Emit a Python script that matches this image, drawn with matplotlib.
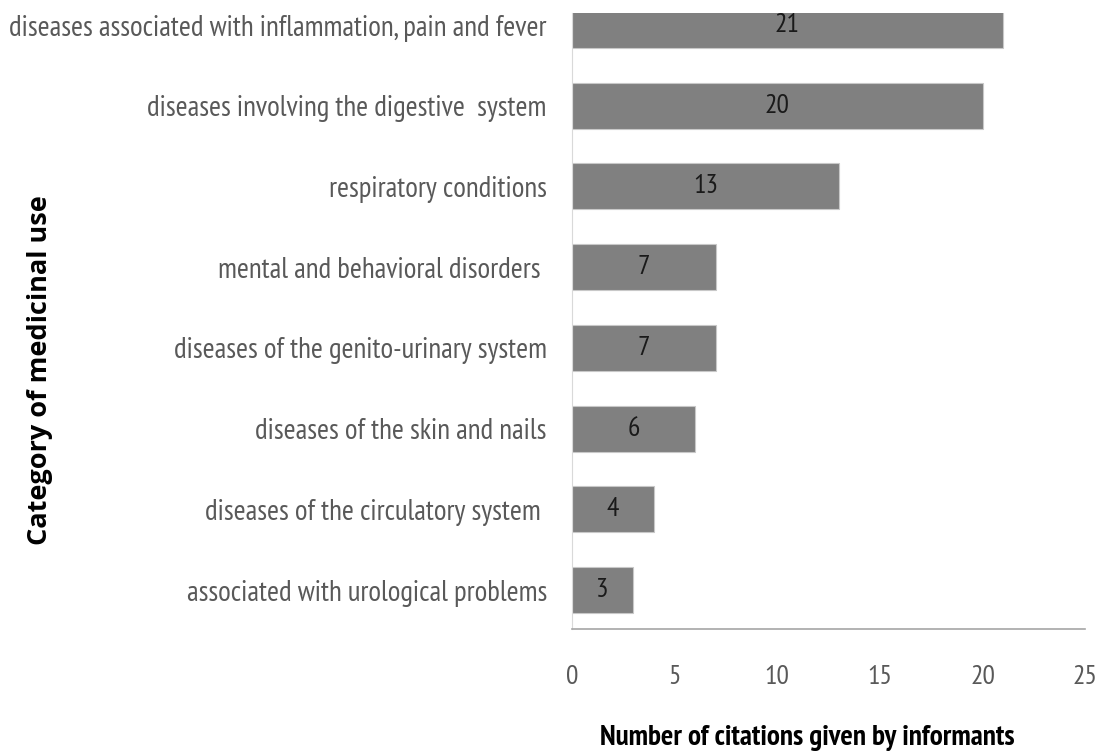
import matplotlib

matplotlib.use("Agg")
import matplotlib.pyplot as plt
from matplotlib import font_manager

categories = [
    "associated with urological problems",
    "diseases of the circulatory system ",
    "diseases of the skin and nails",
    "diseases of the genito-urinary system",
    "mental and behavioral disorders ",
    "respiratory conditions",
    "diseases involving the digestive  system",
    "diseases associated with inflammation, pain and fever",
]
citations = [3, 4, 6, 7, 7, 13, 20, 21]
x_ticks = [0, 5, 10, 15, 20, 25]


def pick_font(*names):
    have = {f.name for f in font_manager.fontManager.ttflist}
    for name in names:
        if name in have:
            return name
    return "DejaVu Sans"


narrow = pick_font("PT Sans Narrow", "Liberation Sans Narrow", "Carlito")
wide_bold = pick_font("Open Sans", "Carlito")

fig = plt.figure(figsize=(11.04, 7.54), dpi=100)
ax = fig.add_axes([0.518, 0.1658, 0.465, 0.817])

pos = list(range(len(categories)))
ax.barh(pos, citations, height=0.57, color="#808080",
        edgecolor="#c8c8c8", linewidth=0.8)

for p, v in zip(pos, citations):
    ax.text(v / 2, p, str(v), ha="center", va="center", fontsize=20,
            color="#1a1a1a", family=narrow)

ax.set_xlim(0, 25)
ax.set_ylim(-0.483, 7.15)
ax.set_xticks(x_ticks)
ax.set_xticklabels([str(t) for t in x_ticks], family=narrow,
                   fontsize=20, color="#595959")
ax.set_yticks(pos)
ax.set_yticklabels(categories, family=narrow, fontsize=20.8,
                   color="#595959")
ax.tick_params(axis="x", length=0, pad=26)
ax.tick_params(axis="y", length=0, pad=18)

for side in ["top", "right"]:
    ax.spines[side].set_visible(False)
ax.spines["left"].set_color("#d9d9d9")
ax.spines["bottom"].set_color("#a6a6a6")
ax.spines["bottom"].set_linewidth(1.2)

fig.text(807 / 1104, 1 - 738 / 754, "Number of citations given by informants",
         family=narrow, fontweight="bold", fontsize=21, ha="center",
         va="center")
fig.text(40 / 1104, 1 - 370 / 754, "Category of medicinal use",
         family=wide_bold, fontweight="bold", fontsize=19.5, rotation=90,
         ha="center", va="center")

fig.savefig("out.png", dpi=100)
